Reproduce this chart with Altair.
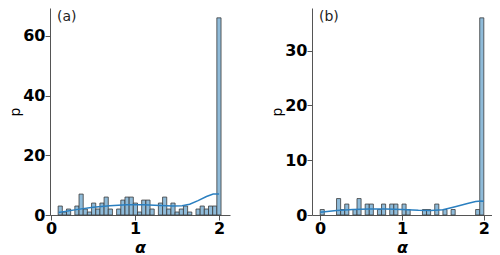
import altair as alt
import pandas as pd

# ---- data ----
a_start = 0.085
a_width = 0.0497
a_counts = [3, 1, 2, 0, 3, 7, 2, 1, 4, 2, 4, 6, 2, 0, 2, 5, 6, 6, 4, 1,
            5, 5, 2, 0, 4, 6, 2, 4, 1, 2, 3, 1, 0, 2, 3, 2, 3, 3, 66]

b_start = 0.0
b_width = 0.05
b_counts = [1, 0, 0, 0, 3, 1, 2, 0, 1, 3, 0, 2, 2, 0, 1, 2, 0, 2, 2, 0,
            2, 1, 0, 0, 0, 1, 1, 0, 2, 0, 1, 0, 1, 0, 0, 0, 0, 0, 1, 36]

kde_a_x = [0.09, 0.3, 0.5, 0.7, 0.9, 1.1, 1.3, 1.45, 1.56, 1.65, 1.75, 1.85, 1.93, 2.0]
kde_a_y = [0.8, 1.8, 2.6, 3.1, 3.4, 3.4, 3.2, 3.0, 3.1, 3.6, 4.8, 6.2, 7.0, 7.0]

kde_b_x = [0.0, 0.2, 0.4, 0.6, 0.8, 1.0, 1.2, 1.35, 1.5, 1.65, 1.8, 1.9, 1.97, 2.0]
kde_b_y = [0.5, 0.8, 1.0, 1.1, 1.1, 1.0, 0.85, 0.8, 0.95, 1.5, 2.1, 2.45, 2.55, 2.5]

x_ticks = [0, 1, 2]
a_yticks = [0, 20, 40, 60]
b_yticks = [0, 10, 20, 30]

FONT = "DejaVu Sans"
BAR_FILL = "#8fbbd9"
BAR_EDGE = "#3a3a3a"
LINE = "#2a7fc0"
AXIS_COL = "#555555"


def bars_df(start, width, counts):
    rows = []
    for i, c in enumerate(counts):
        if c > 0:
            rows.append({"x0": start + i * width, "x1": start + (i + 1) * width,
                         "count": c, "base": 0})
    return pd.DataFrame(rows)


def panel(bdf, kx, ky, xdom, ydom, yticks, label):
    xs = alt.Scale(domain=xdom, nice=False, zero=False)
    ys = alt.Scale(domain=ydom, nice=False)
    xaxis = alt.Axis(values=x_ticks, title="α", format="d", grid=False,
                     labelFlush=False, titleFontStyle="italic", titleFontWeight="bold",
                     titleFontSize=16, titlePadding=3)
    yaxis = alt.Axis(values=yticks, title="p", format="d", grid=False,
                     labelFlush=False, titleFontWeight="normal", titleFontSize=14,
                     titlePadding=0)
    bars = alt.Chart(bdf).mark_rect(fill=BAR_FILL, stroke=BAR_EDGE,
                                    strokeWidth=0.8).encode(
        x=alt.X("x0:Q", scale=xs, axis=xaxis),
        x2="x1:Q",
        y=alt.Y("count:Q", scale=ys, axis=yaxis),
        y2="base:Q",
    )
    kde = alt.Chart(pd.DataFrame({"x": kx, "y": ky})).mark_line(
        color=LINE, strokeWidth=1.5).encode(
        x=alt.X("x:Q", scale=xs), y=alt.Y("y:Q", scale=ys))
    txt = alt.Chart(pd.DataFrame({"t": [label]})).mark_text(
        align="left", baseline="top", font=FONT, fontSize=14, color="#222").encode(
        x=alt.value(7), y=alt.value(2), text="t:N")
    return alt.layer(bars, kde, txt).properties(width=180, height=207)


pa = panel(bars_df(a_start, a_width, a_counts), kde_a_x, kde_a_y,
           [-0.012, 2.13], [0, 69.3], a_yticks, "(a)")
pb = panel(bars_df(b_start, b_width, b_counts), kde_b_x, kde_b_y,
           [-0.1, 2.1], [0, 37.8], b_yticks, "(b)")

chart = alt.hconcat(pa, pb, spacing=40).properties(
    padding={"left": 0, "top": 0, "right": 0, "bottom": 0}
).configure_view(stroke=None).configure_axis(
    labelFont=FONT, titleFont=FONT, labelFontSize=16, labelFontWeight="bold",
    labelColor="black", titleColor="black", domainColor=AXIS_COL, tickColor=AXIS_COL,
    tickSize=5, labelPadding=0, domainWidth=1, tickWidth=1
)

chart.save("out.html", embed_options={"renderer": "svg", "actions": False})
